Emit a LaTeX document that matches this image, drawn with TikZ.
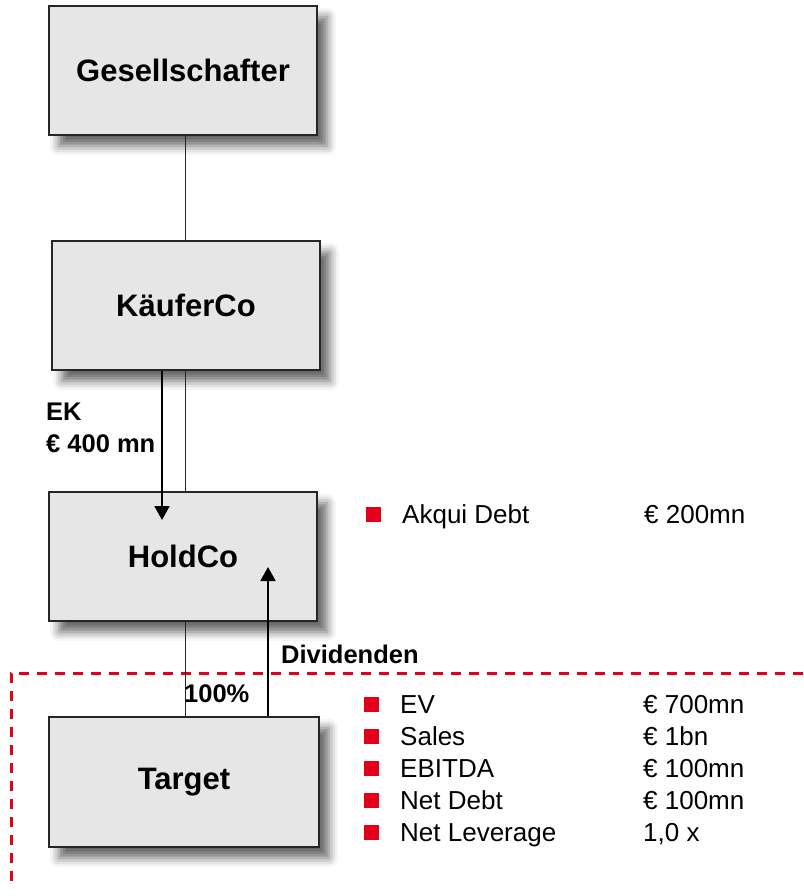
\documentclass[tikz,border=0pt]{standalone}
\usepackage{fontspec}
\setmainfont{Liberation Sans}
\usetikzlibrary{arrows.meta,shadows.blur}
\definecolor{boxgray}{HTML}{E6E6E6}
\definecolor{mred}{HTML}{E2001A}
\tikzset{
  box/.style={draw=black!85, line width=1.3pt, fill=boxgray, minimum width=268pt, minimum height=129pt, inner sep=0pt,
    font=\fontsize{31}{36}\selectfont\bfseries,
    blur shadow={shadow xshift=10pt, shadow yshift=-11pt, shadow blur radius=9pt, shadow opacity=60}},
  conn/.style={line width=1pt, draw=black!85},
  flow/.style={line width=2pt, -{Triangle[length=14pt,width=15pt]}},
  lbl/.style={font=\fontsize{25.5}{30}\selectfont\bfseries, inner sep=0pt, anchor=base west},
  item/.style={font=\fontsize{26}{30}\selectfont, inner sep=0pt, anchor=base west},
  bul/.style={fill=mred, minimum size=15pt, inner sep=0pt},
  reddash/.style={draw=mred, line width=3pt, dash pattern=on 10pt off 8pt}
}
\begin{document}
\begin{tikzpicture}[x=1pt,y=-1pt]
\useasboundingbox (0,0) rectangle (803,896);
% red dashed boundary
\draw[reddash] (803,673) -- (11,673) -- (11,882);
% boxes
\node[box] (G) at (183,70.5) {Gesellschafter};
\node[box] (K) at (186,305.5) {KäuferCo};
\node[box] (H) at (183,556.5) {HoldCo};
\node[box, minimum width=270pt, minimum height=130pt] (T) at (184,782) {Target};
% connectors
\coordinate (lx) at (185,0);
\draw[conn] (G.south -| lx) -- (K.north -| lx);
\draw[conn] (K.south -| lx) -- (H.north -| lx);
\draw[conn] (H.south -| lx) -- (T.north -| lx);
% flows
\coordinate (ekx) at (162,0);
\coordinate (ekend) at (162,520);
\draw[flow] (K.south -| ekx) -- (ekend);
\coordinate (dvx) at (268,0);
\coordinate (dvend) at (268,567);
\draw[flow] (T.north -| dvx) -- (dvend);
% labels
\node[lbl] (ek1) at (46,420) {EK};
\node[lbl] (ek2) at (46,452) {€ 400 mn};
\node[lbl] (div) at (281,663) {Dividenden};
\node[lbl] (pct) at (184,702) {100\%};
% Akqui debt
\node[bul] (b0) at (373,514.5) {};
\node[item] (t0) at (402,523) {Akqui Debt};
\node[item] (v0) at (644,523) {€ 200mn};
% target list
\node[bul] (b1) at (371,704.5) {};
\node[item] (t1) at (400,713) {EV};
\node[item] (v1) at (643,713) {€ 700mn};
\node[bul] (b2) at (371,736.5) {};
\node[item] (t2) at (400,745) {Sales};
\node[item] (v2) at (643,745) {€ 1bn};
\node[bul] (b3) at (371,768.5) {};
\node[item] (t3) at (400,777) {EBITDA};
\node[item] (v3) at (643,777) {€ 100mn};
\node[bul] (b4) at (371,800.5) {};
\node[item] (t4) at (400,809) {Net Debt};
\node[item] (v4) at (643,809) {€ 100mn};
\node[bul] (b5) at (371,832.5) {};
\node[item] (t5) at (400,841) {Net Leverage};
\node[item] (v5) at (643,841) {1,0 x};
\end{tikzpicture}
\end{document}
